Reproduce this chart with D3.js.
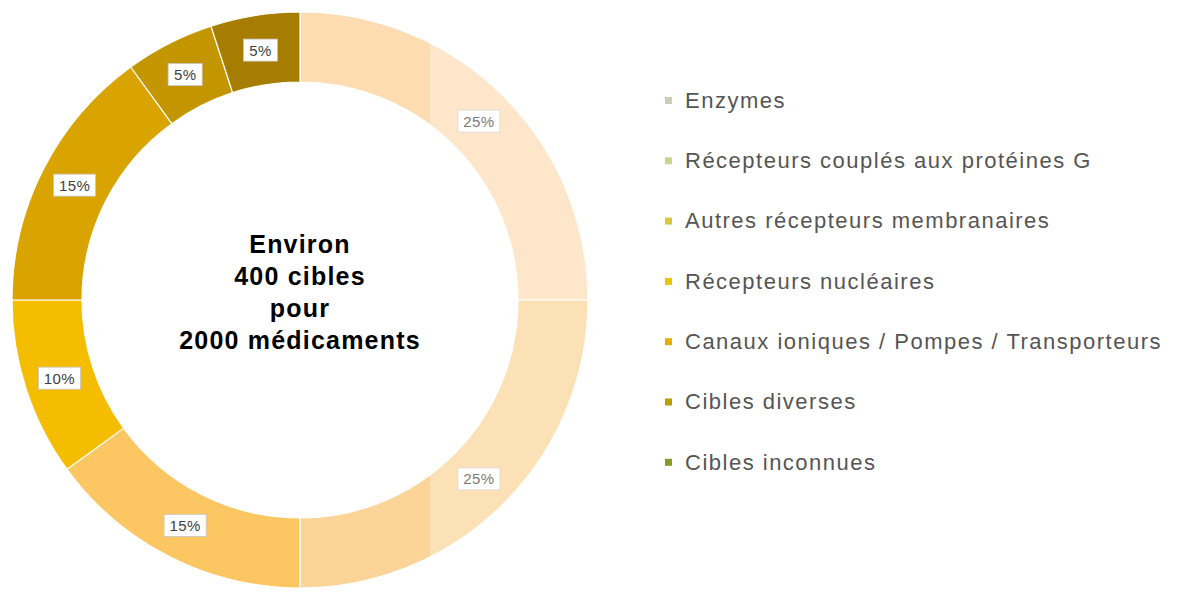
<!DOCTYPE html>
<html>
<head>
<meta charset="utf-8">
<script src="https://cdn.jsdelivr.net/npm/d3@7"></script>
<style>
  body { margin: 0; background: #fff; }
  svg { display: block; }
</style>
</head>
<body>
<div id="chart"></div>
<script>
// Categories, shares (percent) and colours
const categories = [
    "Enzymes",
    "Récepteurs couplés aux protéines G",
    "Autres récepteurs membranaires",
    "Récepteurs nucléaires",
    "Canaux ioniques / Pompes / Transporteurs",
    "Cibles diverses",
    "Cibles inconnues"
];
const shares = [25, 25, 15, 10, 15, 5, 5];
const sliceColors = ["#fddcb2", "#fdd497", "#fcc663", "#f5bd00", "#d9a300", "#c39600", "#a77d00"];
const legendColors = ["#c9cfb2", "#c6d68c", "#d9c83e", "#e8c600", "#e6ad00", "#b5a000", "#8a9a22"];
const centerLines = ["Environ", "400 cibles", "pour", "2000 médicaments"];

const width = 1190, height = 593;
const cx = 300, cy = 300;
const outerR = 288, innerR = 218;

const svg = d3.select("#chart").append("svg")
    .attr("width", width)
    .attr("height", height);

const data = categories.map((c, i) => ({ name: c, value: shares[i], color: sliceColors[i] }));

const pie = d3.pie()
    .value(d => d.value)
    .sort(null);

const arc = d3.arc()
    .innerRadius(innerR)
    .outerRadius(outerR);

const labelArc = d3.arc()
    .innerRadius((innerR + outerR) / 2)
    .outerRadius((innerR + outerR) / 2);

const g = svg.append("g")
    .attr("transform", `translate(${cx},${cy})`);

const arcs = pie(data);

g.selectAll("path.slice")
    .data(arcs)
    .enter()
    .append("path")
    .attr("class", "slice")
    .attr("d", arc)
    .attr("fill", d => d.data.color)
    .attr("stroke", "#fff")
    .attr("stroke-width", 1.2);

// Percentage labels in white boxes
const labels = g.selectAll("g.lbl")
    .data(arcs)
    .enter()
    .append("g")
    .attr("class", "lbl")
    .attr("transform", d => `translate(${labelArc.centroid(d)})`);

labels.append("rect")
    .attr("x", d => d.data.value >= 10 ? -21 : -17)
    .attr("y", -11)
    .attr("width", d => d.data.value >= 10 ? 42 : 34)
    .attr("height", 22)
    .attr("fill", "#fff")
    .attr("stroke", "#c8c8c8")
    .attr("stroke-width", 0.8);

labels.append("text")
    .attr("text-anchor", "middle")
    .attr("dy", "0.36em")
    .style("font-family", "Arial, 'Liberation Sans', sans-serif")
    .style("font-size", "15px")
    .style("letter-spacing", "0.4px")
    .style("fill", "#404040")
    .text(d => d.data.value + "%");

// Centre text
g.selectAll("text.center")
    .data(centerLines)
    .enter()
    .append("text")
    .attr("class", "center")
    .attr("text-anchor", "middle")
    .attr("y", (d, i) => -56 + i * 32)
    .attr("dy", "0.35em")
    .style("font-family", "Arial, 'Liberation Sans', sans-serif")
    .style("font-size", "25px")
    .style("font-weight", "bold")
    .style("letter-spacing", "1.2px")
    .style("fill", "#000")
    .text(d => d);

// Washed-out right part of the picture
svg.append("rect")
    .attr("x", 430)
    .attr("y", 0)
    .attr("width", width - 430)
    .attr("height", height)
    .attr("fill", "#fff")
    .attr("opacity", 0.3);

// Legend
const legend = svg.append("g")
    .attr("transform", "translate(665,100)");

const rows = legend.selectAll("g.row")
    .data(categories)
    .enter()
    .append("g")
    .attr("class", "row")
    .attr("transform", (d, i) => `translate(0,${i * 60.3})`);

rows.append("rect")
    .attr("x", 0)
    .attr("y", -3)
    .attr("width", 7)
    .attr("height", 7)
    .attr("fill", (d, i) => legendColors[i]);

rows.append("text")
    .attr("x", 20)
    .attr("dy", "0.35em")
    .style("font-family", "Arial, 'Liberation Sans', sans-serif")
    .style("font-size", "22px")
    .style("letter-spacing", "1.5px")
    .style("fill", "#555")
    .text(d => d);
</script>
</body>
</html>
